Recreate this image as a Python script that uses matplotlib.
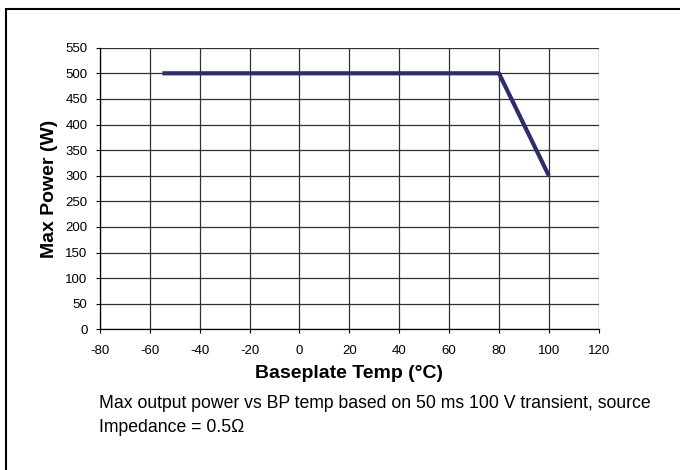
import matplotlib.pyplot as plt
from matplotlib.patches import Rectangle

# derating curve
temp = [-55, 80, 100]
power = [500, 500, 300]
xticks = list(range(-80, 121, 20))
yticks = list(range(0, 551, 50))

plt.rcParams['font.family'] = ['Liberation Sans', 'DejaVu Sans']
plt.rcParams['axes.unicode_minus'] = False

fig = plt.figure(figsize=(6.8, 4.7), dpi=100)
W, H = 680, 470
ax = fig.add_axes([100 / W, 1 - 329.3 / H, 498.7 / W, 281.6 / H])

# outer frame
fig.patches.append(Rectangle((6 / W, -0.05), 1.0, 1 - 9 / H + 0.05, transform=fig.transFigure,
                             fill=False, edgecolor='black', linewidth=1.5))

ax.plot(temp, power, color='#2b2e6a', linewidth=3, solid_capstyle='butt', zorder=3)

ax.set_xlim(-80, 120)
ax.set_ylim(0, 550)
ax.set_xticks(xticks)
ax.set_yticks(yticks)
ax.grid(True, color='#303030', linewidth=0.9)
ax.set_axisbelow(True)
for s in ['top', 'right']:
    ax.spines[s].set_visible(False)
for s in ['left', 'bottom']:
    ax.spines[s].set_color('black')
    ax.spines[s].set_linewidth(0.9)
ax.tick_params(direction='out', length=3, width=0.8, labelsize=9.5, colors='black')
ax.tick_params(axis='x', pad=8)
ax.tick_params(axis='y', pad=6)

ax.set_xlabel('Baseplate Temp (°C)', fontsize=14, fontweight='bold', labelpad=6)
ax.set_ylabel('Max Power (W)', fontsize=14, fontweight='bold', labelpad=5)

fig.text(99 / W, 1 - 403 / H, 'Max output power vs BP temp based on 50 ms 100 V transient, source',
         fontsize=12.7, va='center')
fig.text(99 / W, 1 - 428 / H, 'Impedance = 0.5Ω', fontsize=12.7, va='center')

fig.savefig('out.png', dpi=100)
